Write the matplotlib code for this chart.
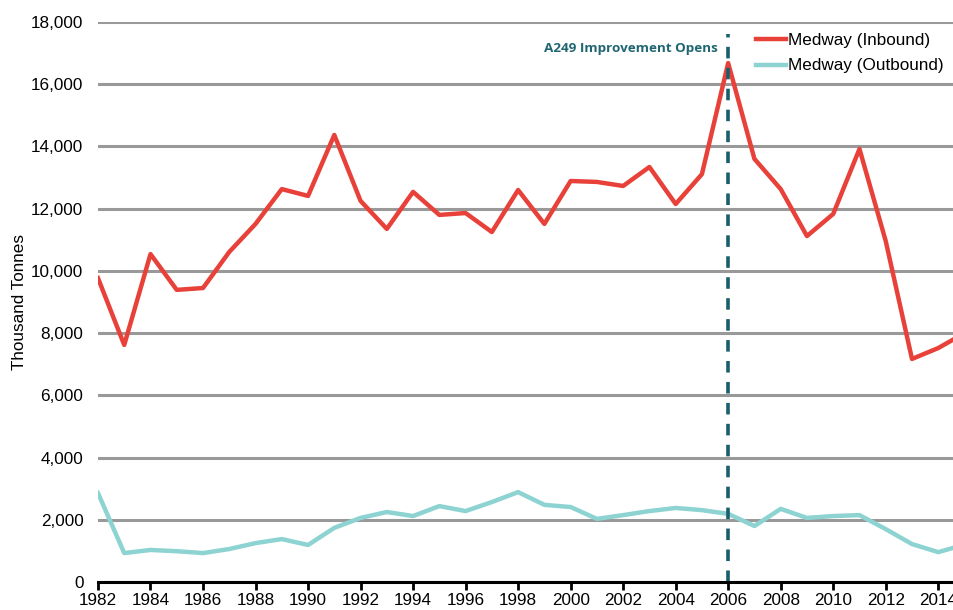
import numpy as np
import matplotlib
matplotlib.use('Agg')
import matplotlib.pyplot as plt

plt.rcParams['font.family'] = ['Liberation Sans', 'DejaVu Sans']

#data (thousand tonnes)
years = list(range(1982, 2016))
inbound = [9770, 7620, 10540, 9390, 9450, 10610, 11510, 12630, 12410, 14370,
           12250, 11350, 12540, 11800, 11860, 11250, 12600, 11510, 12890, 12860,
           12730, 13340, 12150, 13110, 16680, 13600, 12630, 11120, 11830, 13920,
           10960, 7170, 7520, 8000]
outbound = [2860, 930, 1030, 990, 930, 1060, 1250, 1380, 1190, 1740,
            2060, 2250, 2120, 2440, 2280, 2570, 2890, 2480, 2410, 2030,
            2150, 2280, 2380, 2310, 2190, 1800, 2350, 2060, 2120, 2150,
            1700, 1220, 960, 1200]
event_year = 2006
event_label = 'A249 Improvement Opens'
yticks = list(range(0, 18001, 2000))
xticks = list(range(1982, 2015, 2))

fig = plt.figure(figsize=(9.54, 6.10), dpi=100)
ax = fig.add_axes([0.1027, 0.0459, 0.8973, 0.918])

ax.plot(years, inbound, color='#E8413A', lw=3.2, label='Medway (Inbound)', zorder=3)
ax.plot(years, outbound, color='#8DD3D2', lw=3.2, label='Medway (Outbound)', zorder=3)

ax.axvline(event_year, ymin=0, ymax=0.978, color='#1B5E6B', lw=2.6,
           dashes=(3.2, 2.6), zorder=4)
ax.text(event_year - 0.38, 17150, event_label, ha='right', va='center',
        fontsize=9.7, fontweight='bold', color='#1F6672', family=['Open Sans', 'DejaVu Sans'])

ax.set_xlim(1982, 2014.6)
ax.set_ylim(0, 18000)
ax.set_yticks(yticks)
ax.set_yticklabels(['{:,}'.format(v) for v in yticks])
ax.set_xticks(xticks)
ax.set_xticklabels([str(x) for x in xticks])
ax.tick_params(axis='y', length=0, pad=10.5, labelsize=12.3)
ax.tick_params(axis='x', length=6, width=2, direction='out', pad=2, labelsize=12.3)
ax.grid(axis='y', color='#999999', lw=2.2, zorder=1)
ax.set_axisbelow(True)
for s in ['top', 'right', 'left']:
    ax.spines[s].set_visible(False)
ax.spines['bottom'].set_linewidth(2.2)
ax.spines['bottom'].set_zorder(5)
ax.set_ylabel('Thousand Tonnes', fontsize=12.3, labelpad=3)

leg = ax.legend(loc='upper right', bbox_to_anchor=(1.004, 1.005), frameon=False,
                fontsize=12.3, handlelength=1.75, handletextpad=0.15, labelspacing=0.62,
                borderpad=0.3)

fig.savefig('out.png', dpi=100)
